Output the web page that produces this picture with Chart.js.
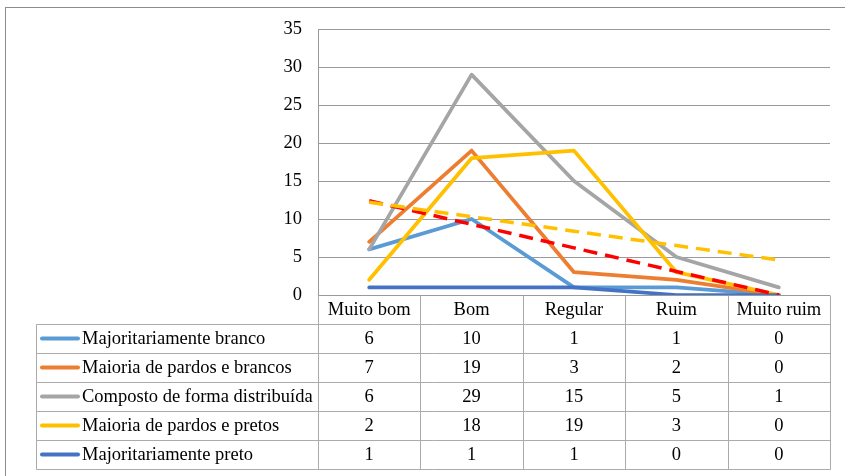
<!DOCTYPE html>
<html>
<head>
<meta charset="utf-8">
<script src="https://cdn.jsdelivr.net/npm/chart.js@4.4.1/dist/chart.umd.min.js"></script>
<style>
  html, body { margin: 0; padding: 0; background: #fff; }
  canvas { display: block; }
</style>
</head>
<body>
<canvas id="chart" width="845" height="476"></canvas>
<script>
// Categories and series values
const categories = ['Muito bom', 'Bom', 'Regular', 'Ruim', 'Muito ruim'];
const seriesNames = [
  'Majoritariamente branco',
  'Maioria de pardos e brancos',
  'Composto de forma distribuída',
  'Maioria de pardos e pretos',
  'Majoritariamente preto'
];
const majoritariamenteBranco = [6, 10, 1, 1, 0];
const maioriaPardosBrancos = [7, 19, 3, 2, 0];
const compostoDistribuido = [6, 29, 15, 5, 1];
const maioriaPardosPretos = [2, 18, 19, 3, 0];
const majoritariamentePreto = [1, 1, 1, 0, 0];
const yTickValues = [0, 5, 10, 15, 20, 25, 30, 35];

const seriesValues = [
  majoritariamenteBranco,
  maioriaPardosBrancos,
  compostoDistribuido,
  maioriaPardosPretos,
  majoritariamentePreto
];
const seriesColors = ['#5B9BD5', '#ED7D31', '#A5A5A5', '#FFC000', '#4472C4'];

// Least-squares linear trend over category positions 1..n
function linearTrend(values) {
  const n = values.length;
  const xs = values.map((_, i) => i + 1);
  const mx = xs.reduce((a, b) => a + b, 0) / n;
  const my = values.reduce((a, b) => a + b, 0) / n;
  let sxy = 0, sxx = 0;
  for (let i = 0; i < n; i++) {
    sxy += (xs[i] - mx) * (values[i] - my);
    sxx += (xs[i] - mx) * (xs[i] - mx);
  }
  const slope = sxy / sxx;
  return xs.map(x => my + slope * (x - mx));
}

const FONT = 'Liberation Serif, "Times New Roman", serif';
const FONT_SIZE = 18.5;

const datasets = seriesNames.map((name, i) => ({
  label: name,
  data: seriesValues[i],
  borderColor: seriesColors[i],
  backgroundColor: seriesColors[i],
  borderWidth: 3.75,
  borderJoinStyle: 'round',
  borderCapStyle: 'round',
  pointRadius: 0,
  tension: 0,
  order: 2 + (seriesNames.length - 1 - i)
}));

// Linear trend lines for two of the series
datasets.push({
  label: 'Linear (Maioria de pardos e brancos)',
  data: linearTrend(maioriaPardosBrancos),
  borderColor: '#FF0000',
  borderWidth: 3.5,
  borderDash: [14, 8],
  borderCapStyle: 'butt',
  pointRadius: 0,
  order: 1
});
datasets.push({
  label: 'Linear (Maioria de pardos e pretos)',
  data: linearTrend(maioriaPardosPretos),
  borderColor: '#FFC000',
  borderWidth: 3.5,
  borderDash: [14, 8],
  borderCapStyle: 'butt',
  pointRadius: 0,
  order: 0
});

// White background and outer frame
const framePlugin = {
  id: 'frame',
  beforeDraw(chart) {
    const ctx = chart.ctx;
    ctx.save();
    ctx.fillStyle = '#fff';
    ctx.fillRect(0, 0, chart.width, chart.height);
    ctx.strokeStyle = '#8C8C8C';
    ctx.lineWidth = 1;
    ctx.strokeRect(5.5, 7.5, chart.width + 10, chart.height + 10);
    ctx.restore();
  }
};

// Data table under the plot: category header, legend keys, values
const dataTablePlugin = {
  id: 'dataTable',
  afterDraw(chart) {
    const ctx = chart.ctx;
    const area = chart.chartArea;
    const xScale = chart.scales.x;
    const n = categories.length;
    const colW = (area.right - area.left) / n;
    const rowH = 29;
    const top = area.bottom;
    const rows = seriesNames.length + 1;
    const bottom = top + rows * rowH;
    const tableLeft = 36;
    const a = v => Math.round(v) + 0.5;

    ctx.save();
    ctx.strokeStyle = '#ABABAB';
    ctx.lineWidth = 1;
    ctx.beginPath();
    for (let k = 1; k <= rows; k++) {
      const y = a(top + k * rowH);
      ctx.moveTo(tableLeft + 0.5, y);
      ctx.lineTo(a(area.right), y);
    }
    for (let i = 0; i <= n; i++) {
      const x = a(area.left + i * colW);
      ctx.moveTo(x, a(top));
      ctx.lineTo(x, a(bottom));
    }
    ctx.moveTo(tableLeft + 0.5, a(top + rowH));
    ctx.lineTo(tableLeft + 0.5, a(bottom));
    ctx.stroke();

    ctx.fillStyle = '#000';
    ctx.font = FONT_SIZE + 'px ' + FONT;
    ctx.textBaseline = 'middle';
    ctx.textAlign = 'center';
    categories.forEach((c, i) => {
      ctx.fillText(c, xScale.getPixelForValue(i), top + rowH / 2 + 1);
    });

    seriesNames.forEach((name, s) => {
      const cy = top + (s + 1) * rowH + rowH / 2 + 1;
      // legend key
      ctx.strokeStyle = seriesColors[s];
      ctx.lineWidth = 4;
      ctx.lineCap = 'round';
      ctx.beginPath();
      ctx.moveTo(42, cy - 1);
      ctx.lineTo(78, cy - 1);
      ctx.stroke();
      ctx.textAlign = 'left';
      ctx.fillText(name, 82, cy);
      ctx.textAlign = 'center';
      seriesValues[s].forEach((v, i) => {
        ctx.fillText(String(v), xScale.getPixelForValue(i), cy);
      });
    });
    ctx.restore();
  }
};

new Chart(document.getElementById('chart'), {
  type: 'line',
  data: { labels: categories, datasets },
  options: {
    responsive: false,
    devicePixelRatio: 1,
    animation: false,
    layout: { padding: { left: 0, top: 29, right: 15, bottom: 181 } },
    plugins: { legend: { display: false }, tooltip: { enabled: false } },
    scales: {
      x: {
        type: 'category',
        offset: true,
        display: false
      },
      y: {
        min: 0,
        max: 35,
        afterFit(scale) { scale.width = 318; },
        afterBuildTicks(scale) { scale.ticks = yTickValues.map(v => ({ value: v })); },
        ticks: {
          color: '#000',
          padding: 16,
          font: { family: FONT, size: FONT_SIZE }
        },
        grid: { color: '#9A9A9A', lineWidth: 1, drawTicks: false },
        border: { display: true, color: '#9A9A9A', width: 1 }
      }
    }
  },
  plugins: [framePlugin, dataTablePlugin]
});
</script>
</body>
</html>
